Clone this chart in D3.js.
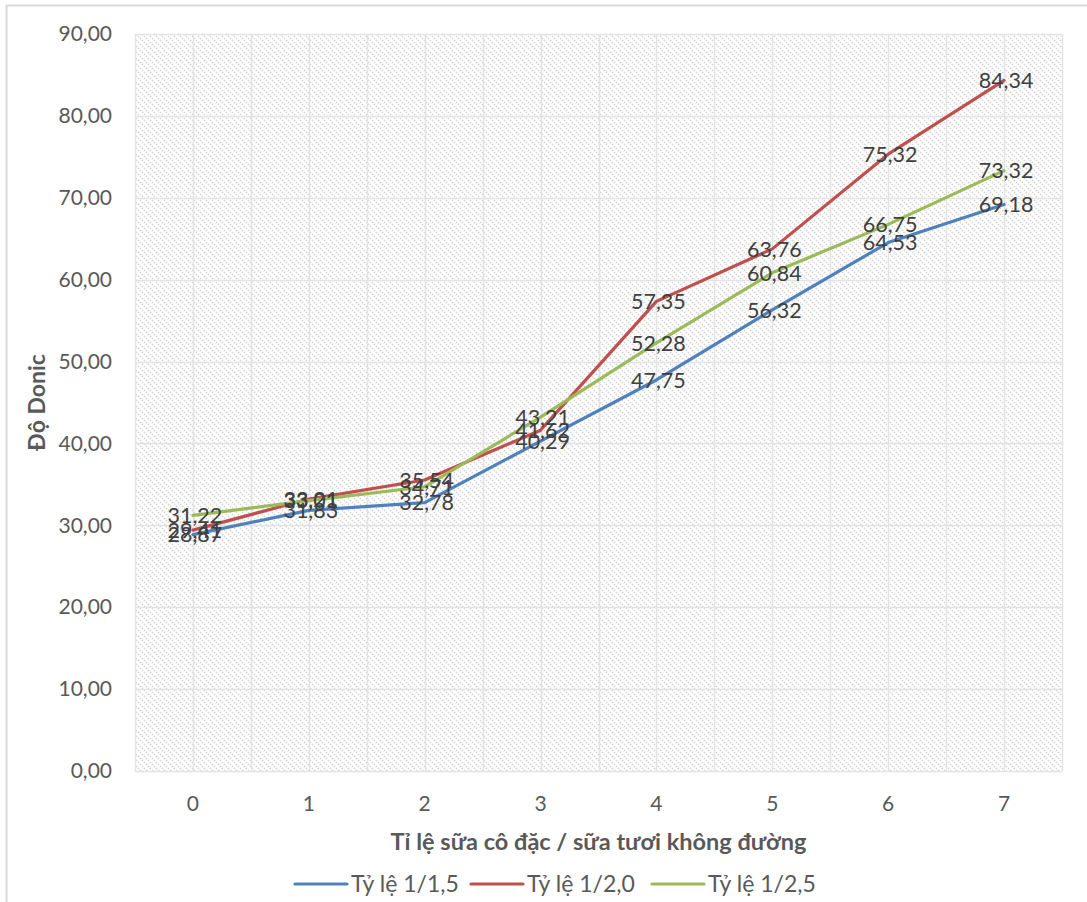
<!DOCTYPE html>
<html>
<head>
<meta charset="utf-8">
<script src="https://cdn.jsdelivr.net/npm/d3@7/dist/d3.min.js"></script>
<style>
  html, body { margin: 0; padding: 0; background: #fff; }
  svg { display: block; font-family: Lato, "Open Sans", sans-serif; }
</style>
</head>
<body>
<svg id="chart" width="1087" height="902"></svg>
<script>
// Mixing ratios on the x axis
const categories = ["0", "1", "2", "3", "4", "5", "6", "7"];
// Series names and measured values (Độ Donic)
const seriesNames = ["Tỷ lệ 1/1,5", "Tỷ lệ 1/2,0", "Tỷ lệ 1/2,5"];
const ratio15 = [28.87, 31.83, 32.78, 40.29, 47.75, 56.32, 64.53, 69.18];
const ratio20 = [29.41, 33.21, 35.54, 41.62, 57.35, 63.76, 75.32, 84.34];
const ratio25 = [31.22, 33.01, 34.71, 43.21, 52.28, 60.84, 66.75, 73.32];
const yTicks = [0, 10, 20, 30, 40, 50, 60, 70, 80, 90];
const seriesColors = ["#4F81BD", "#C0504D", "#9BBB59"];

const fmt = v => v.toFixed(2).replace(".", ",");

const svg = d3.select("#chart");
const plot = { left: 135, right: 1062, top: 34, bottom: 771 };

// outer chart frame
svg.append("rect")
  .attr("x", 6.5).attr("y", 5.5)
  .attr("width", 1200).attr("height", 1200)
  .attr("fill", "none").attr("stroke", "#d9d9d9").attr("stroke-width", 2);

// diagonal hatch fill for the plot area
const defs = svg.append("defs");
const pat = defs.append("pattern")
  .attr("id", "hatch").attr("patternUnits", "userSpaceOnUse")
  .attr("width", 6).attr("height", 6);
pat.append("rect").attr("width", 6).attr("height", 6).attr("fill", "#fff");
pat.append("path")
  .attr("d", "M0,0 L6,6 M-3,3 L3,9 M3,-3 L9,3")
  .attr("stroke", "#d3d3d3").attr("stroke-width", 1.6)
  .attr("stroke-dasharray", "1.4,1.4");

const x = d3.scaleBand().domain(categories).range([plot.left, plot.right]);
const y = d3.scaleLinear().domain([0, 90]).range([plot.bottom, plot.top]);

svg.append("rect")
  .attr("x", plot.left).attr("y", plot.top)
  .attr("width", plot.right - plot.left).attr("height", plot.bottom - plot.top)
  .attr("fill", "url(#hatch)");

// horizontal gridlines
svg.append("g")
  .selectAll("line").data(yTicks).join("line")
  .attr("x1", plot.left).attr("x2", plot.right)
  .attr("y1", d => Math.round(y(d)) + 0.5).attr("y2", d => Math.round(y(d)) + 0.5)
  .attr("stroke", "#e3e3e3").attr("stroke-width", 1.5);

// vertical gridlines at band edges and centres
const vLines = [];
categories.forEach(c => {
  vLines.push(x(c));
  vLines.push(x(c) + x.bandwidth() / 2);
});
vLines.push(plot.right);
svg.append("g")
  .selectAll("line").data(vLines).join("line")
  .attr("x1", d => Math.round(d) + 0.5).attr("x2", d => Math.round(d) + 0.5)
  .attr("y1", plot.top).attr("y2", plot.bottom)
  .attr("stroke", "#e3e3e3").attr("stroke-width", 1.5);

// y axis labels
const yAxis = d3.axisLeft(y).tickValues(yTicks).tickFormat(fmt).tickSize(0).tickPadding(23);
const gy = svg.append("g").attr("transform", `translate(${plot.left},0)`).call(yAxis);
gy.select(".domain").remove();
gy.selectAll("text").attr("fill", "#595959").style("font-size", "21px")
  .style("font-family", "Lato, sans-serif");

// x axis labels
const xAxis = d3.axisBottom(x).tickSize(0).tickPadding(25);
const gx = svg.append("g").attr("transform", `translate(0,${plot.bottom})`).call(xAxis);
gx.select(".domain").remove();
gx.selectAll("text").attr("fill", "#595959").style("font-size", "21px")
  .style("font-family", "Lato, sans-serif");

// axis titles
svg.append("text")
  .attr("transform", `translate(45,${(plot.top + plot.bottom) / 2}) rotate(-90)`)
  .attr("text-anchor", "middle")
  .attr("fill", "#595959").attr("font-weight", "bold").style("font-size", "23px")
  .text("Độ Donic");

svg.append("text")
  .attr("x", (plot.left + plot.right) / 2).attr("y", 850)
  .attr("text-anchor", "middle")
  .attr("fill", "#595959").attr("font-weight", "bold").style("font-size", "23.5px")
  .text("Tỉ lệ sữa cô đặc / sữa tươi không đường");

// series lines
const allSeries = [ratio15, ratio20, ratio25];
const line = d3.line()
  .x((d, i) => x(categories[i]) + x.bandwidth() / 2)
  .y(d => y(d));

allSeries.forEach((vals, k) => {
  svg.append("path")
    .datum(vals)
    .attr("d", line)
    .attr("fill", "none")
    .attr("stroke", seriesColors[k])
    .attr("stroke-width", 3.2)
    .attr("stroke-linejoin", "round")
    .attr("stroke-linecap", "round");
});

// value labels centred on each point
allSeries.forEach((vals) => {
  svg.append("g")
    .selectAll("text").data(vals).join("text")
    .attr("x", (d, i) => x(categories[i]) + x.bandwidth() / 2 + 2)
    .attr("y", d => y(d))
    .attr("dy", "0.36em")
    .attr("text-anchor", "middle")
    .attr("fill", "#404040")
    .style("font-size", "21.5px")
    .text(fmt);
});

// legend
const legendItems = [
  { x: 295, name: seriesNames[0], color: seriesColors[0] },
  { x: 471, name: seriesNames[1], color: seriesColors[1] },
  { x: 652, name: seriesNames[2], color: seriesColors[2] }
];
const lg = svg.append("g");
legendItems.forEach(it => {
  lg.append("line")
    .attr("x1", it.x).attr("x2", it.x + 52)
    .attr("y1", 884).attr("y2", 884)
    .attr("stroke", it.color).attr("stroke-width", 3.2).attr("stroke-linecap", "round");
  lg.append("text")
    .attr("x", it.x + 56).attr("y", 884).attr("dy", "0.36em")
    .attr("fill", "#595959").style("font-size", "23px")
    .text(it.name);
});
</script>
</body>
</html>
